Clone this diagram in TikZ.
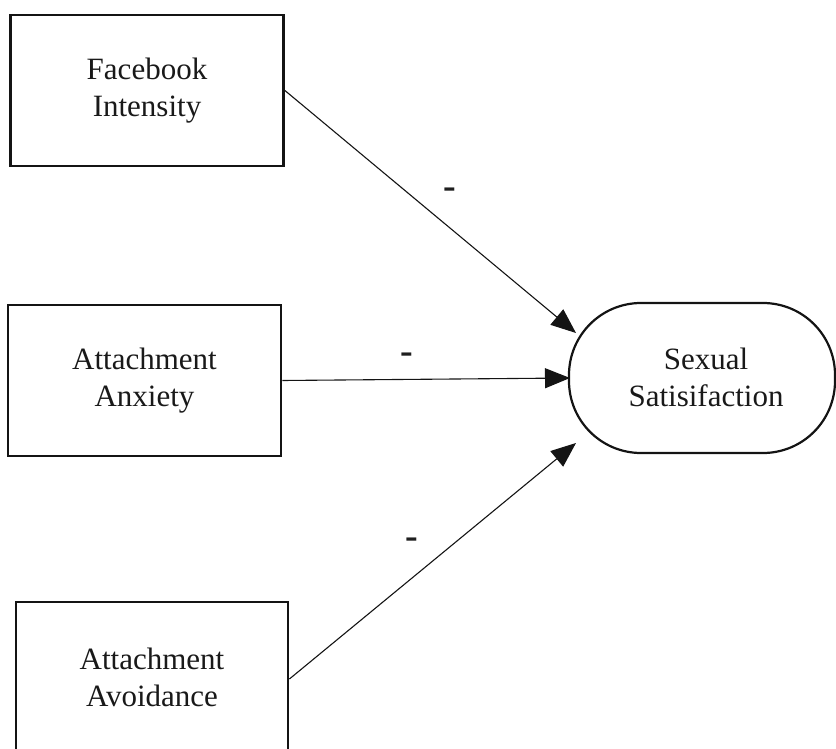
\documentclass[tikz,border=0pt]{standalone}
\usepackage{fontspec}
\setmainfont{Liberation Serif}
\usetikzlibrary{arrows.meta}
\begin{document}
\begin{tikzpicture}[x=1pt,y=-1pt,
  txt/.style={font=\fontsize{31}{37}\selectfont, align=center, text=black!90},
  varbox/.style={txt, draw=black!92, line width=2.8pt, minimum width=273pt, minimum height=151pt, inner sep=0pt},
  outbox/.style={txt, draw=black!92, line width=2.2pt, rounded corners=72pt, minimum width=266pt, minimum height=150pt, inner sep=0pt},
  arr/.style={draw=black!92, line width=1.1pt, -{Triangle[length=25pt,width=20pt]}},
  sign/.style={font=\fontsize{38}{40}\selectfont\bfseries, inner sep=0pt, text=black!88}]
\useasboundingbox (0,0) rectangle (836,749);
\node[varbox] (fi) at (147,90.5) {Facebook\\Intensity};
\node[varbox] (anx) at (144.5,380.5) {Attachment\\Anxiety};
\node[varbox, minimum width=272pt, minimum height=150pt] (avo) at (152,677) {Attachment\\Avoidance};
\node[outbox] (ss) at (702,378) {};
\node[txt] (sst) at (706,377) {Sexual\\Satisifaction};
\coordinate (tipA) at (576,333);
\coordinate (tipB) at (570,378);
\coordinate (tipC) at (576,443);
\draw[arr] (fi.east) -- (tipA);
\draw[arr] (anx.east) -- (tipB);
\draw[arr] ([yshift=-2pt]avo.east) -- (tipC);
\node[sign] (s1) at (450,193) {-};
\node[sign] (s2) at (407,358) {-};
\node[sign] (s3) at (412,543) {-};
\end{tikzpicture}
\end{document}
